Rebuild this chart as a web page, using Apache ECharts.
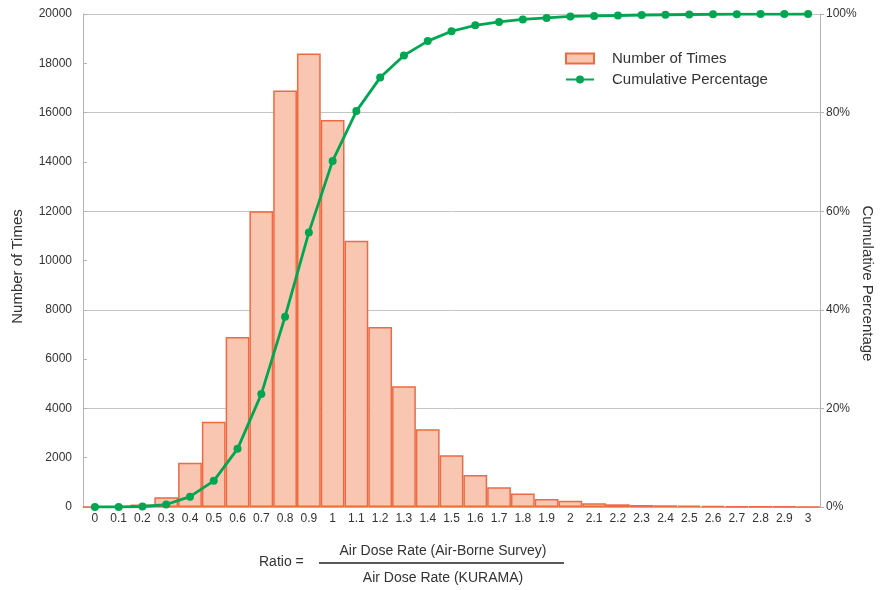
<!DOCTYPE html>
<html>
<head>
<meta charset="utf-8">
<script src="https://cdn.jsdelivr.net/npm/echarts@6/dist/echarts.min.js"></script>
<style>html,body{margin:0;padding:0;background:#fff}#c{width:880px;height:590px}</style>
</head>
<body>
<div id="c"></div>
<script>
var categories = ['0','0.1','0.2','0.3','0.4','0.5','0.6','0.7','0.8','0.9','1','1.1','1.2','1.3','1.4','1.5','1.6','1.7','1.8','1.9','2','2.1','2.2','2.3','2.4','2.5','2.6','2.7','2.8','2.9','3'];
var counts = [0,0,100,400,1800,3460,6900,12000,16900,18400,15700,10800,7300,4900,3150,2100,1300,800,550,320,250,150,110,80,70,60,40,30,20,15,10];
var cumulative = [0,0,0.1,0.5,2.1,5.3,11.8,22.9,38.6,55.7,70.2,80.3,87.1,91.6,94.5,96.5,97.7,98.4,98.9,99.2,99.5,99.6,99.7,99.8,99.85,99.9,99.95,99.97,99.98,99.99,100];
var leftTicks = {min:0, max:20000, interval:2000};
var rightTicks = {min:0, max:100, interval:20};

var txt = '#333';
var font = 'Liberation Sans, Arial, sans-serif';
var chart = echarts.init(document.getElementById('c'), null, {renderer:'canvas'});
chart.setOption({
  animation:false,
  textStyle:{fontFamily:font},
  grid:{left:83, right:60, top:14, bottom:83, containLabel:false, outerBoundsMode:'none'},
  legend:{
    orient:'vertical', left:560, top:46, itemWidth:28, itemHeight:10, itemGap:6,
    textStyle:{fontSize:15, color:txt, fontFamily:font, padding:[0,0,0,13]},
    data:[{name:'Number of Times', icon:'rect'},{name:'Cumulative Percentage'}]
  },
  xAxis:{
    type:'category', data:categories, boundaryGap:true,
    axisLine:{lineStyle:{color:'#b4b4b4', width:1}},
    axisTick:{inside:true, length:4, lineStyle:{color:'#b4b4b4'}, alignWithLabel:false},
    axisLabel:{fontSize:12, color:txt, margin:6, interval:0, fontFamily:font}
  },
  yAxis:[{
    type:'value', min:leftTicks.min, max:leftTicks.max, interval:leftTicks.interval,
    name:'Number of Times', nameLocation:'middle', nameGap:58, nameRotate:90, nameMoveOverlap:false,
    nameTextStyle:{fontSize:15, color:txt, fontFamily:font, padding:[0,12,0,0]},
    axisLine:{show:true, lineStyle:{color:'#b4b4b4'}},
    axisTick:{show:true, inside:true, length:4, lineStyle:{color:'#b4b4b4'}},
    splitLine:{show:false},
    axisLabel:{fontSize:12, color:txt, margin:11, fontFamily:font, formatter:function(v){return String(v);}}
  },{
    type:'value', min:rightTicks.min, max:rightTicks.max, interval:rightTicks.interval, position:'right',
    name:'Cumulative Percentage', nameLocation:'middle', nameGap:40, nameRotate:-90, nameMoveOverlap:false,
    nameTextStyle:{fontSize:15, color:txt, fontFamily:font, padding:[0,0,0,46]},
    axisLine:{show:true, lineStyle:{color:'#b4b4b4'}},
    axisTick:{show:true, inside:false, length:4, lineStyle:{color:'#b4b4b4'}},
    splitLine:{show:true, lineStyle:{color:'#c4c4c4', width:1}},
    axisLabel:{fontSize:12, color:txt, margin:6, formatter:function(v){return v+'%';}, fontFamily:font}
  }],
  series:[{
    name:'Number of Times', type:'bar', data:counts, barCategoryGap:'0%', barGap:'0%',
    itemStyle:{color:'#F9C7B1', borderColor:'#EE6A42', borderWidth:1.5}
  },{
    name:'Cumulative Percentage', type:'line', yAxisIndex:1, data:cumulative,
    symbol:'circle', symbolSize:8, showAllSymbol:true,
    lineStyle:{color:'#00A651', width:2.8},
    itemStyle:{color:'#00A651'}
  }],
  graphic:[
    {type:'text', left:259, top:555, style:{text:'Ratio =', font:'14px '+font, fill:txt}},
    {type:'text', x:443, y:551, style:{text:'Air Dose Rate (Air-Borne Survey)', font:'14px '+font, fill:txt, align:'center', verticalAlign:'middle'}},
    {type:'line', shape:{x1:319, y1:563, x2:564, y2:563}, style:{stroke:'#222', lineWidth:1.5}},
    {type:'text', x:443, y:578, style:{text:'Air Dose Rate (KURAMA)', font:'14px '+font, fill:txt, align:'center', verticalAlign:'middle'}}
  ]
});
</script>
</body>
</html>
